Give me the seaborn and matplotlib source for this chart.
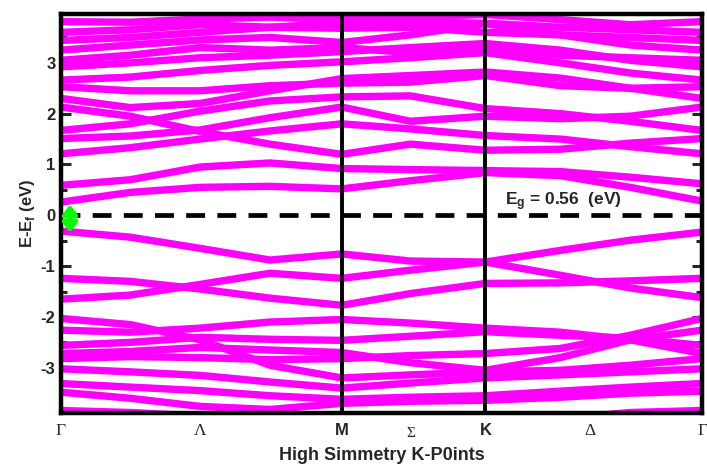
import numpy as np
import pandas as pd
import seaborn as sns
import matplotlib
matplotlib.use('Agg')
import matplotlib.pyplot as plt
import matplotlib.transforms as mtransforms
from matplotlib.ticker import MultipleLocator

# k-path nodes, normalised distance along G-M-K-G
kpts = [0.0, 0.108, 0.217, 0.326, 0.438, 0.545, 0.662, 0.779, 0.888, 1.0]

# conduction bands (eV), read at the k nodes
c1 = [0.26, 0.45, 0.55, 0.57, 0.52, 0.68, 0.84, 0.78, 0.55, 0.28]
c2 = [0.59, 0.70, 0.95, 1.03, 0.92, 0.90, 0.88, 0.86, 0.75, 0.62]
c3 = [1.21, 1.33, 1.50, 1.66, 1.80, 1.70, 1.57, 1.50, 1.35, 1.21]
c4 = [2.13, 1.95, 1.65, 1.40, 1.20, 1.40, 1.28, 1.30, 1.42, 1.51]
c5 = [1.51, 1.56, 1.68, 1.92, 2.13, 1.85, 1.95, 1.90, 1.95, 2.13]
c6 = [1.67, 1.80, 2.05, 2.25, 2.33, 2.35, 2.10, 2.00, 1.85, 1.67]
c7 = [2.30, 2.12, 2.20, 2.45, 2.69, 2.75, 2.82, 2.70, 2.50, 2.30]
c8 = [2.53, 2.45, 2.45, 2.55, 2.60, 2.62, 2.75, 2.55, 2.50, 2.53]
c9 = [2.66, 2.72, 2.85, 2.95, 3.02, 3.10, 3.20, 3.00, 2.80, 2.66]
c10 = [2.92, 3.00, 3.10, 3.15, 3.22, 3.30, 3.38, 3.25, 3.05, 2.92]
c11 = [3.05, 3.15, 3.30, 3.25, 3.30, 3.20, 3.25, 3.15, 3.10, 3.05]
c12 = [3.25, 3.35, 3.45, 3.50, 3.40, 3.55, 3.77, 3.55, 3.35, 3.25]
c13 = [3.44, 3.50, 3.60, 3.70, 3.68, 3.70, 3.60, 3.55, 3.50, 3.44]
c14 = [3.81, 3.80, 3.86, 3.90, 3.85, 3.90, 3.95, 3.85, 3.75, 3.81]
c15 = [3.60, 3.65, 3.75, 3.70, 3.78, 3.80, 3.78, 3.70, 3.65, 3.60]

# valence bands (eV)
v1 = [-0.31, -0.43, -0.65, -0.88, -0.76, -0.90, -0.92, -0.69, -0.49, -0.33]
v2 = [-1.65, -1.57, -1.36, -1.14, -1.24, -1.08, -0.92, -1.18, -1.43, -1.62]
v3 = [-1.24, -1.30, -1.45, -1.63, -1.77, -1.54, -1.34, -1.33, -1.29, -1.24]
v4 = [-2.03, -2.15, -2.45, -2.95, -3.20, -3.14, -3.08, -3.05, -2.95, -2.82]
v5 = [-2.26, -2.30, -2.22, -2.10, -2.05, -2.12, -2.22, -2.30, -2.45, -2.72]
v6 = [-2.56, -2.50, -2.40, -2.44, -2.46, -2.38, -2.29, -2.36, -2.42, -2.56]
v7 = [-2.72, -2.68, -2.60, -2.65, -2.70, -2.90, -3.05, -2.80, -2.45, -2.26]
v8 = [-2.82, -2.78, -2.80, -2.84, -2.82, -2.76, -2.72, -2.62, -2.36, -2.03]
v9 = [-3.02, -3.08, -3.15, -3.28, -3.40, -3.30, -3.20, -3.14, -3.08, -3.02]
v10 = [-3.31, -3.38, -3.45, -3.55, -3.62, -3.58, -3.55, -3.46, -3.38, -3.31]
v11 = [-3.48, -3.60, -3.76, -3.82, -3.70, -3.66, -3.64, -3.58, -3.50, -3.46]
v12 = [-3.84, -3.88, -3.95, -4.00, -4.00, -4.00, -4.00, -4.00, -3.88, -3.84]

bands = [c1, c2, c3, c4, c5, c6, c7, c8, c9, c10, c11, c12, c13, c14, c15,
         v1, v2, v3, v4, v5, v6, v7, v8, v9, v10, v11, v12]

kticks = [0.0, 0.217, 0.438, 0.545, 0.662, 0.825, 1.0]
klabels = ['Γ', 'Λ', 'M', 'Σ', 'K', 'Δ', 'Γ']
yticks = [-3, -2, -1, 0, 1, 2, 3]
ylabels = ['-3', '-2', '-1', '0', '1', '2', '3']
Eg = 0.56

rows = []
for i, b in enumerate(bands):
    for k, e in zip(kpts, b):
        rows.append((i, k, e))
df = pd.DataFrame(rows, columns=['band', 'k', 'E'])

sns.set_style('white')
plt.rcParams['font.family'] = ['Liberation Sans', 'DejaVu Sans']
plt.rcParams['mathtext.fontset'] = 'custom'
plt.rcParams['mathtext.rm'] = 'Liberation Sans'
plt.rcParams['mathtext.bf'] = 'Liberation Sans:bold'

fig, ax = plt.subplots(figsize=(7.07, 4.68), dpi=100)
fig.subplots_adjust(left=0.0863, right=0.993, top=0.970, bottom=0.1175)

sns.lineplot(data=df, x='k', y='E', units='band', estimator=None, sort=False,
             color='#ff00ff', lw=5.3, ax=ax, legend=False)

ax.axhline(0, color='black', lw=3.4, ls=(0, (4, 2.6)), zorder=3)
ax.axvline(kticks[2], color='black', lw=2.8, zorder=3)
ax.axvline(kticks[4], color='black', lw=2.8, zorder=3)

# gap arrow
ax.annotate('', xy=(0.014, 0.21), xytext=(0.014, -0.34),
            arrowprops=dict(arrowstyle='<|-|>,head_width=0.35,head_length=0.45',
                            color='#00ff00', lw=3.5, mutation_scale=12,
                            shrinkA=0, shrinkB=0), zorder=4)
ax.text(0.693, 0.19, r'$\mathbf{E_g}$ = ' + f'{Eg:.2f}  (eV)', fontsize=12.5,
        fontweight='bold')

ax.set_xlim(0, 1)
ax.set_ylim(-3.89, 3.96)

ax.set_yticks(yticks)
ax.set_yticklabels(ylabels, fontweight='bold', fontsize=12)
ax.yaxis.set_minor_locator(MultipleLocator(0.5))
ax.tick_params(axis='y', which='major', direction='in', length=7, width=2.2,
               left=True, right=True, pad=4)
ax.tick_params(axis='y', which='minor', direction='in', length=4, width=2.2,
               left=True, right=True)

ax.set_xticks(kticks)
ax.set_xticklabels(klabels)
ax.tick_params(axis='x', length=0, pad=7)
sigma_shift = mtransforms.ScaledTranslation(0, -3 / 72, fig.dpi_scale_trans)
for lab, name in zip(ax.get_xticklabels(), klabels):
    if name in ('M', 'K'):
        lab.set_fontfamily('Liberation Sans')
        lab.set_fontweight('bold')
        lab.set_fontsize(12)
    elif name == 'Σ':
        lab.set_fontfamily('Liberation Serif')
        lab.set_fontsize(11)
        lab.set_transform(lab.get_transform() + sigma_shift)
    else:
        lab.set_fontfamily('Liberation Serif')
        lab.set_fontsize(12.5)

for s in ax.spines.values():
    s.set_linewidth(3.2)
    s.set_color('black')

ax.set_xlabel('High Simmetry K-P0ints', fontweight='bold', fontsize=13, labelpad=5)
ax.set_ylabel(r'E-E$_\mathbf{f}$ (eV)', fontweight='bold', fontsize=12, labelpad=3)

fig.savefig('out.png', dpi=100)
